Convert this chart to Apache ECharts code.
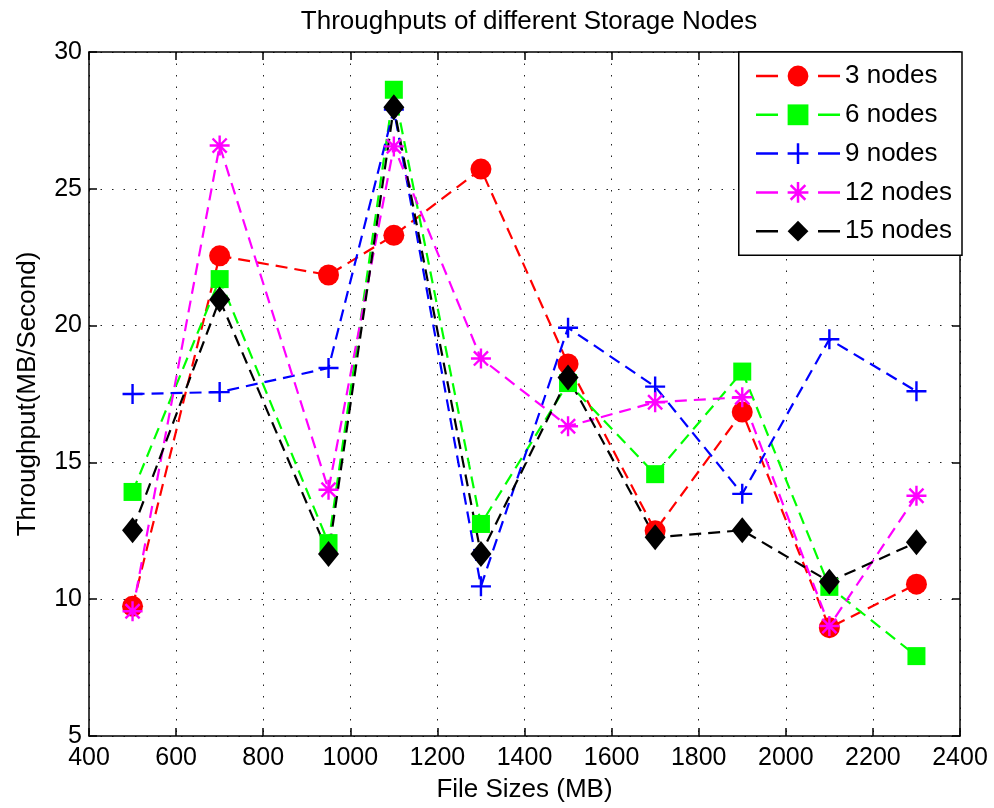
<!DOCTYPE html>
<html>
<head>
<meta charset="utf-8">
<script src="https://cdn.jsdelivr.net/npm/echarts@6/dist/echarts.min.js"></script>
<style>
html, body { margin: 0; padding: 0; background: #fff; }
#chart { width: 994px; height: 808px; }
</style>
</head>
<body>
<div id="chart"></div>
<script>
var fileSizes = [500, 700, 950, 1100, 1300, 1500, 1700, 1900, 2100, 2300];
var nodes3 = [9.74, 22.55, 21.85, 23.3, 25.72, 18.6, 12.5, 16.84, 8.96, 10.55];
var nodes6 = [13.92, 21.7, 12.05, 28.62, 12.75, 17.9, 14.57, 18.32, 10.45, 7.92];
var nodes9 = [17.5, 17.57, 18.45, 27.9, 10.47, 19.92, 17.77, 13.85, 19.5, 17.6];
var nodes12 = [9.56, 26.58, 14.0, 26.55, 18.8, 16.32, 17.2, 17.38, 9.02, 13.78];
var nodes15 = [12.52, 20.95, 11.65, 27.98, 11.65, 18.1, 12.26, 12.52, 10.64, 12.08];
var seriesNames = ['3 nodes', '6 nodes', '9 nodes', '12 nodes', '15 nodes'];

var font = '"Liberation Sans", Arial, Helvetica, sans-serif';

// plus and asterisk drawn as filled paths
var plusPath = 'path://M8.8,0h2.4v8.8h8.8v2.4h-8.8v8.8h-2.4v-8.8h-8.8v-2.4h8.8z';
var starPath = 'path://M0,8.8L20,8.8L20,11.2L0,11.2Z' +
  'M11.2,0L11.2,20L8.8,20L8.8,0Z' +
  'M3.777,2.081L17.92,16.22L16.22,17.92L2.081,3.777Z' +
  'M17.92,3.777L3.777,17.92L2.081,16.22L16.22,2.081Z';

function pairs(ys) {
  return fileSizes.map(function (x, i) { return [x, ys[i]]; });
}

function makeSeries(name, ys, color, symbol, size) {
  return {
    name: name,
    type: 'line',
    data: pairs(ys),
    symbol: symbol,
    symbolSize: size,
    showAllSymbol: true,
    itemStyle: { color: color },
    lineStyle: { color: color, width: 2.2, type: [12, 7] },
    emphasis: { disabled: true },
    animation: false
  };
}

var dom = document.getElementById('chart');
var myChart = echarts.init(dom, null, { renderer: 'canvas' });

var tickStyle = { show: true, inside: true, length: 8, lineStyle: { color: '#000', width: 1.5 } };
var lineStyleAxis = { show: true, onZero: false, lineStyle: { color: '#000', width: 1.5 } };
var gridDots = { show: true, lineStyle: { color: '#222', width: 1, type: [1.5, 10] } };
var plainNum = function (v) { return String(v); };

var option = {
  backgroundColor: '#fff',
  animation: false,
  title: {
    text: 'Throughputs of different Storage Nodes',
    left: 524,
    textAlign: 'center',
    top: 4,
    textStyle: { fontFamily: font, fontSize: 26, fontWeight: 'normal', color: '#000' }
  },
  legend: {
    data: seriesNames,
    orient: 'vertical',
    right: 32,
    top: 52,
    padding: [11, 10, 11, 16],
    itemWidth: 84,
    itemHeight: 26,
    itemGap: 12.8,
    backgroundColor: '#fff',
    borderColor: '#000',
    borderWidth: 1.5,
    lineStyle: { type: [22, 40], width: 2.5 },
    textStyle: { fontFamily: font, fontSize: 26, color: '#000', lineHeight: 26 }
  },
  grid: { left: 89, right: 34, top: 52, bottom: 70, containLabel: false },
  xAxis: [{
    type: 'value',
    min: 400,
    max: 2400,
    interval: 200,
    name: 'File Sizes (MB)',
    nameLocation: 'middle',
    nameGap: 41,
    nameTextStyle: { fontFamily: font, fontSize: 26, color: '#000' },
    axisLine: lineStyleAxis,
    axisTick: tickStyle,
    axisLabel: { fontFamily: font, fontSize: 25, color: '#000', margin: 10, formatter: plainNum },
    splitLine: gridDots
  }, {
    type: 'value',
    position: 'top',
    min: 400,
    max: 2400,
    interval: 200,
    axisLine: lineStyleAxis,
    axisTick: tickStyle,
    axisLabel: { show: false },
    splitLine: { show: false }
  }],
  yAxis: [{
    type: 'value',
    min: 5,
    max: 30,
    interval: 5,
    name: 'Throughput(MB/Second)',
    nameLocation: 'middle',
    nameGap: 48,
    nameTextStyle: { fontFamily: font, fontSize: 26, color: '#000' },
    axisLine: lineStyleAxis,
    axisTick: tickStyle,
    axisLabel: { fontFamily: font, fontSize: 25, color: '#000', margin: 7, formatter: plainNum },
    splitLine: gridDots
  }, {
    type: 'value',
    position: 'right',
    min: 5,
    max: 30,
    interval: 5,
    axisLine: lineStyleAxis,
    axisTick: tickStyle,
    axisLabel: { show: false },
    splitLine: { show: false }
  }],
  series: [
    makeSeries(seriesNames[0], nodes3, '#ff0000', 'circle', 21),
    makeSeries(seriesNames[1], nodes6, '#00ff00', 'rect', 18),
    makeSeries(seriesNames[2], nodes9, '#0000ff', plusPath, 20),
    makeSeries(seriesNames[3], nodes12, '#ff00ff', starPath, 20),
    makeSeries(seriesNames[4], nodes15, '#000000', 'diamond', [21, 26])
  ]
};

if (option && typeof option === 'object') {
  myChart.setOption(option);
}

window.addEventListener('resize', myChart.resize);
</script>
</body>
</html>
